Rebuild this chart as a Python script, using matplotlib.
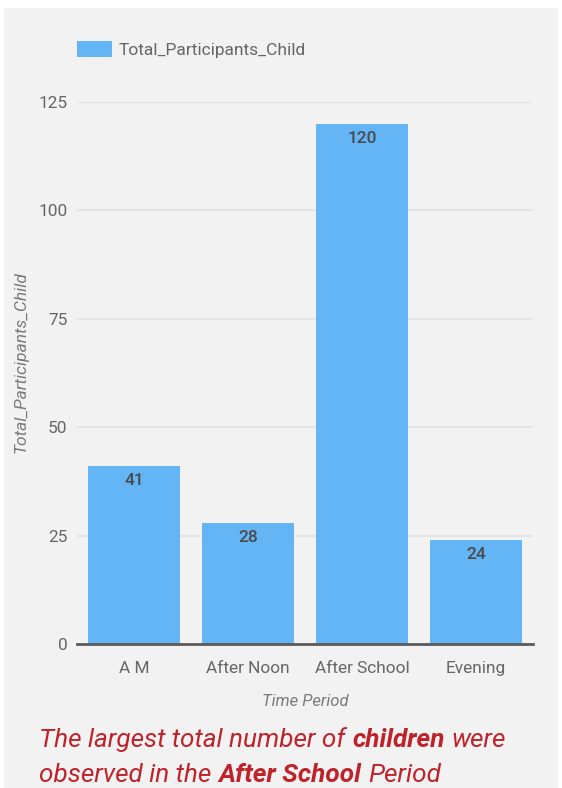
import matplotlib.pyplot as plt
from matplotlib.patches import Rectangle
from matplotlib.offsetbox import TextArea, HPacker, VPacker, AnchoredOffsetbox

plt.rcParams['font.family'] = ['Roboto', 'DejaVu Sans']

# data
periods = ['A M', 'After Noon', 'After School', 'Evening']
children = [41, 28, 120, 24]
y_ticks = [0, 25, 50, 75, 100, 125]

bar_color = '#64B5F6'
grey_text = '#666666'
red_text = '#C0222A'

fig = plt.figure(figsize=(5.62, 7.88), dpi=100)
fig.patch.set_facecolor('white')
# grey card behind the chart
fig.add_artist(Rectangle((4 / 562, 0), 554 / 562, 780 / 788, transform=fig.transFigure,
                         facecolor='#F2F2F2', edgecolor='none', zorder=-10))

ax = fig.add_axes([77 / 562, 144 / 788, 456 / 562, 542 / 788])
ax.set_facecolor('none')

x = range(len(periods))
bars = ax.bar(x, children, width=0.807, color=bar_color, label='Total_Participants_Child', zorder=2)

ax.set_xlim(-0.5, len(periods) - 0.5)
ax.set_ylim(0, 125)
ax.set_yticks(y_ticks)
ax.set_xticks(list(x))
ax.set_xticklabels(periods)
ax.tick_params(axis='both', length=0, labelsize=12.4, colors=grey_text)
ax.tick_params(axis='y', pad=7)
ax.tick_params(axis='x', pad=12)

ax.grid(axis='y', color='#E4E4E4', linewidth=1.5, zorder=0)
for s in ['top', 'right', 'left']:
    ax.spines[s].set_visible(False)
ax.spines['bottom'].set_color('#5a5a5a')
ax.spines['bottom'].set_linewidth(2)
ax.spines['bottom'].set_zorder(3)

# value labels inside the top of each bar
for i, v in enumerate(children):
    ax.annotate(str(v), (i, v), xytext=(0, -5), textcoords='offset points',
                ha='center', va='top', fontsize=12.5, fontweight='medium', color='#4a4a4a', zorder=4)

ax.set_xlabel('Time Period', fontsize=12, style='italic', color='#7a7a7a')
ax.xaxis.set_label_coords(0.5, -0.092)
ax.set_ylabel('Total_Participants_Child', fontsize=12.5, style='italic', color='#7a7a7a')
ax.yaxis.set_label_coords(-0.107, 0.52)

leg = ax.legend(loc='lower left', bbox_to_anchor=(77 / 562, 730 / 788), bbox_transform=fig.transFigure,
                frameon=False, fontsize=12.5, handlelength=2.0, handleheight=1.05, handletextpad=0.4,
                borderaxespad=0, borderpad=0)
for t in leg.get_texts():
    t.set_color(grey_text)

# note below the chart, with bold words inside
note_props = dict(fontsize=18.8, style='italic', color=red_text)
bold_props = dict(note_props, fontweight='bold')


def piece(s, props):
    return TextArea(s, textprops=props)


line1 = HPacker(children=[piece('The largest total number of', note_props),
                          piece('children', bold_props),
                          piece('were', note_props)], align='baseline', pad=0, sep=5)
line2 = HPacker(children=[piece('observed in the', note_props),
                          piece('After School', bold_props),
                          piece('Period', note_props)], align='baseline', pad=0, sep=5)
note = VPacker(children=[line1, line2], align='left', pad=0, sep=8)
box = AnchoredOffsetbox(loc='upper left', child=note, pad=0, frameon=False,
                        bbox_to_anchor=(39 / 562, 61 / 788), bbox_transform=fig.transFigure, borderpad=0)
fig.add_artist(box)

fig.savefig('out.png', dpi=100, facecolor=fig.get_facecolor())
